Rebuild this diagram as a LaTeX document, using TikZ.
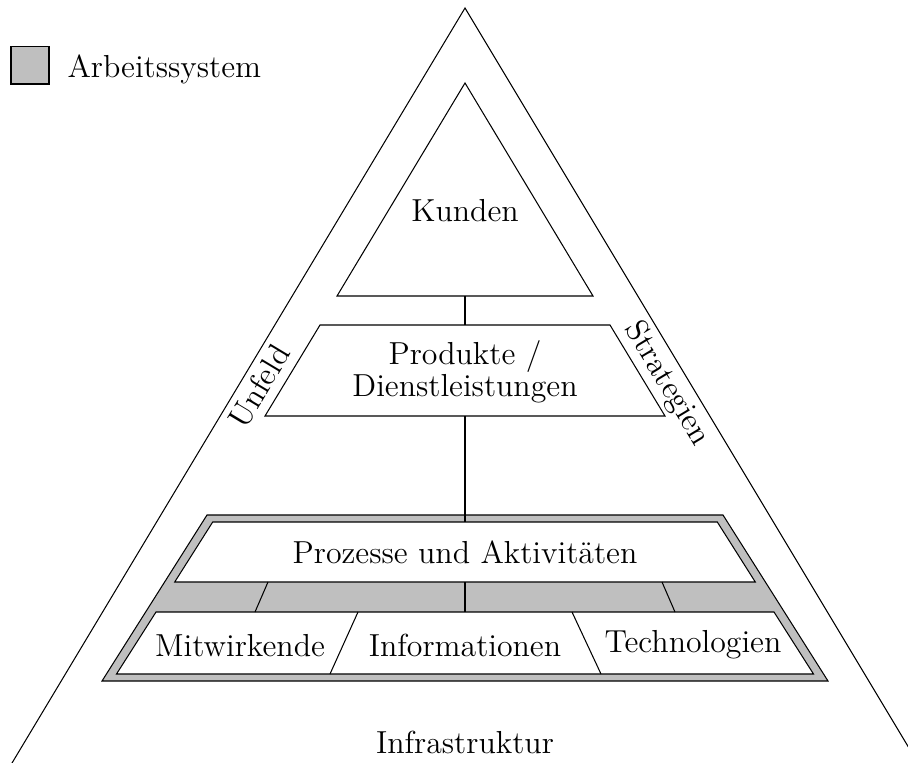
\documentclass[tikz,border=0pt]{standalone}
\usetikzlibrary{calc}
\begin{document}
\begin{tikzpicture}[x=0.3846pt,y=-0.3846pt,
  outline/.style={draw=black,line width=0.4pt},
  sysgray/.style={fill=black!25},
  txt/.style={font=\fontsize{12.25}{12.25}\selectfont,inner sep=0pt},
  link/.style={draw=black,line width=0.4pt}]
\useasboundingbox (0,0) rectangle (908,762);

% outer environment triangle (open at the bottom)
\begin{scope}
  \clip (0,0) rectangle (908,762);
  \coordinate (apex) at (465,8);
  \coordinate (envL) at (7.8,770);
  \coordinate (envR) at (922.2,770);
  \draw[outline] (envL) -- (apex) -- (envR);
\end{scope}

% customers triangle
\coordinate (kTop) at (465,83);
\coordinate (kR) at (593,296);
\coordinate (kL) at (337,296);
\coordinate (kBase) at (465,296);
\draw[outline] (kTop) -- (kR) -- (kL) -- cycle;
\node[txt,anchor=base] (kunden) at (465,221) {Kunden};

% products / services trapezoid
\coordinate (pTL) at (320,325);
\coordinate (pTR) at (610,325);
\coordinate (pBR) at (665,416);
\coordinate (pBL) at (265,416);
\coordinate (pTop) at (465,325);
\coordinate (pBot) at (465,416);
\draw[outline] (pTL) -- (pTR) -- (pBR) -- (pBL) -- cycle;
\node[txt,align=center] (produkte) at (465,372) {Produkte /\\Dienstleistungen};
\draw[link] (kBase) -- (pTop);

% work system frame
\coordinate (wTL) at (207,515);
\coordinate (wTR) at (723,515);
\coordinate (wBR) at (828,681);
\coordinate (wBL) at (102,681);
\draw[outline,sysgray] (wTL) -- (wTR) -- (wBR) -- (wBL) -- cycle;

% processes box
\coordinate (aTL) at (212.7,522);
\coordinate (aTR) at (717.3,522);
\coordinate (aBR) at (755.3,582);
\coordinate (aBL) at (174.7,582);
\coordinate (aTop) at (465,522);
\draw[outline,fill=white] (aTL) -- (aTR) -- (aBR) -- (aBL) -- cycle;
\node[txt,anchor=base] (prozesse) at (465,563) {Prozesse und Aktivitäten};
\draw[link] (pBot) -- (aTop);

% lower row: participants, information, technologies
\coordinate (lTL) at (156,612);
\coordinate (lTR) at (774,612);
\coordinate (lBR) at (813.5,674);
\coordinate (lBL) at (116.5,674);
\draw[outline,fill=white] (lTL) -- (lTR) -- (lBR) -- (lBL) -- cycle;
\coordinate (d1t) at (358,612);
\coordinate (d1b) at (330,674);
\coordinate (d2t) at (572,612);
\coordinate (d2b) at (601,674);
\draw[outline] (d1t) -- (d1b);
\draw[outline] (d2t) -- (d2b);
\node[txt,anchor=base] (mitwirkende) at (240,656) {Mitwirkende};
\node[txt,anchor=base] (informationen) at (465,656) {Informationen};
\node[txt,anchor=base] (technologien) at (693,652) {Technologien};

% dividers in the grey band
\coordinate (b1t) at (268,582);
\coordinate (b1b) at (255,612);
\coordinate (b2t) at (465,582);
\coordinate (b2b) at (465,612);
\coordinate (b3t) at (662,582);
\coordinate (b3b) at (675,612);
\draw[outline] (b1t) -- (b1b);
\draw[outline] (b2t) -- (b2b);
\draw[outline] (b3t) -- (b3b);

% side labels along the environment triangle
\node[txt,rotate=59] (umfeld) at (259,386) {Unfeld};
\node[txt,rotate=-59] (strategien) at (667,384) {Strategien};
\node[txt,anchor=base] (infra) at (465,753) {Infrastruktur};

% legend
\node[outline,sysgray,minimum size=14.6pt,inner sep=0pt] (legbox) at (30,65) {};
\node[txt,anchor=base west] (legtext) at (67,77) {Arbeitssystem};
\end{tikzpicture}
\end{document}
